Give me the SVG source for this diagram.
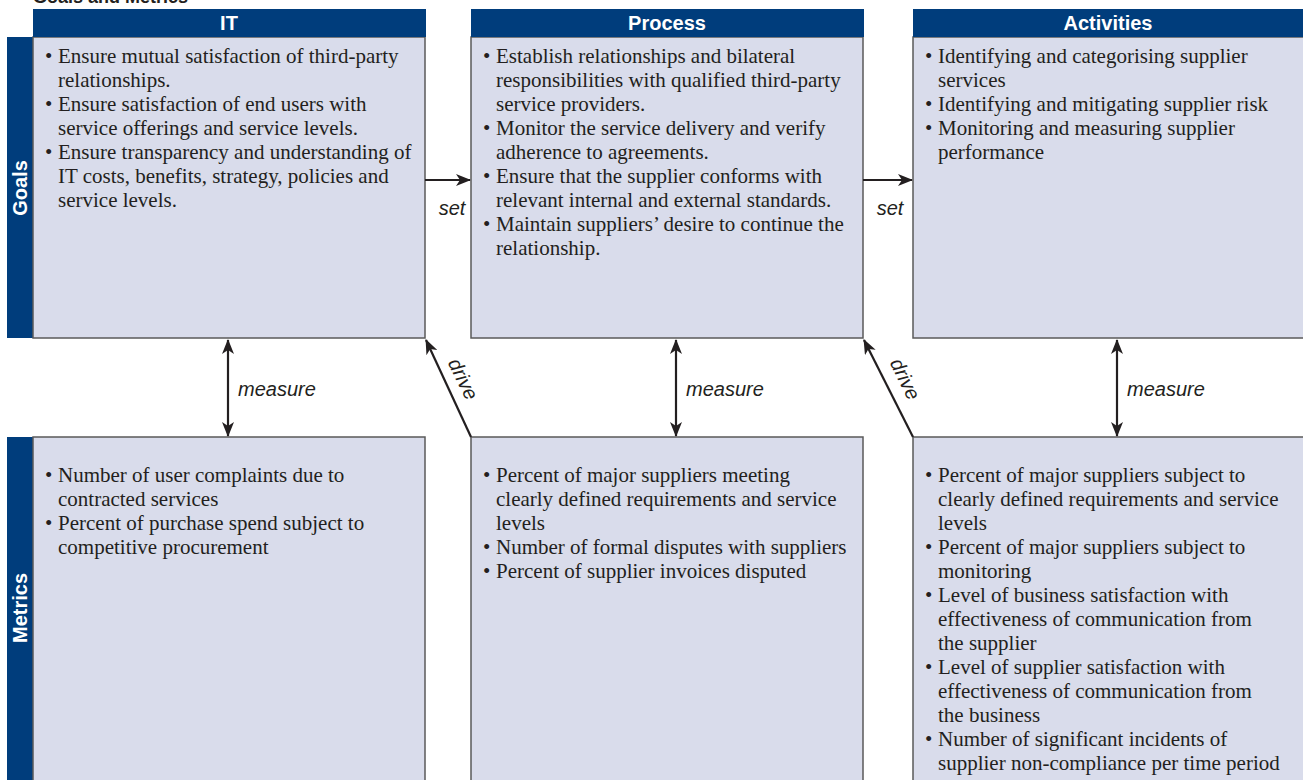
<svg xmlns="http://www.w3.org/2000/svg" width="1303" height="780" viewBox="0 0 1303 780">
<style>
.hdr{fill:#003D7C}
.box{fill:#D9DCEB;stroke:#5a5a5a;stroke-width:1.5}
.ht{font-family:"Liberation Sans",Arial,sans-serif;font-weight:bold;font-size:20px;fill:#fff;text-anchor:middle}
.bt{font-family:"Liberation Serif","Times New Roman",serif;font-size:21px;fill:#231f20}
.lbl{font-family:"Liberation Sans",Arial,sans-serif;font-style:italic;font-size:20px;fill:#231f20}
.cn{stroke:#231f20;stroke-width:2.2;fill:none}
</style>
<defs>
<marker id="ah" viewBox="0 0 15 12" refX="14" refY="6" markerWidth="15" markerHeight="12" markerUnits="userSpaceOnUse" orient="auto-start-reverse">
<path d="M0,0 L15,6 L0,12 L4,6 Z" fill="#231f20"/>
</marker>
</defs>
<text x="33" y="3" font-family="Liberation Sans,Arial,sans-serif" font-weight="bold" font-size="18" fill="#231f20">Goals and Metrics</text>
<g id="side-goals"><rect class="hdr" x="7" y="37" width="27" height="301"/><text class="ht" transform="translate(27,188) rotate(-90)" font-size="17">Goals</text></g>
<g id="side-metrics"><rect class="hdr" x="7" y="437" width="27" height="343"/><text class="ht" transform="translate(27,608) rotate(-90)" font-size="17">Metrics</text></g>
<g id="it-goals">
<rect class="box" x="33" y="37" width="392" height="301"/>
<rect class="hdr" x="33" y="9" width="393" height="28"/>
<text class="ht" x="229" y="30">IT</text>
<text class="bt"><tspan x="45" y="63">•</tspan><tspan x="58" y="63">Ensure mutual satisfaction of third-party</tspan><tspan x="58" y="87">relationships.</tspan><tspan x="45" y="111">•</tspan><tspan x="58" y="111">Ensure satisfaction of end users with</tspan><tspan x="58" y="135">service offerings and service levels.</tspan><tspan x="45" y="159">•</tspan><tspan x="58" y="159">Ensure transparency and understanding of</tspan><tspan x="58" y="183">IT costs, benefits, strategy, policies and</tspan><tspan x="58" y="207">service levels.</tspan></text>
</g>
<g id="process-goals">
<rect class="box" x="471" y="37" width="392" height="301"/>
<rect class="hdr" x="471" y="9" width="393" height="28"/>
<text class="ht" x="667" y="30">Process</text>
<text class="bt"><tspan x="483" y="63">•</tspan><tspan x="496" y="63">Establish relationships and bilateral</tspan><tspan x="496" y="87">responsibilities with qualified third-party</tspan><tspan x="496" y="111">service providers.</tspan><tspan x="483" y="135">•</tspan><tspan x="496" y="135">Monitor the service delivery and verify</tspan><tspan x="496" y="159">adherence to agreements.</tspan><tspan x="483" y="183">•</tspan><tspan x="496" y="183">Ensure that the supplier conforms with</tspan><tspan x="496" y="207">relevant internal and external standards.</tspan><tspan x="483" y="231">•</tspan><tspan x="496" y="231">Maintain suppliers’ desire to continue the</tspan><tspan x="496" y="255">relationship.</tspan></text>
</g>
<g id="activities-goals">
<rect class="box" x="913" y="37" width="395" height="301"/>
<rect class="hdr" x="913" y="9" width="395" height="28"/>
<text class="ht" x="1108" y="30">Activities</text>
<text class="bt"><tspan x="925" y="63">•</tspan><tspan x="938" y="63">Identifying and categorising supplier</tspan><tspan x="938" y="87">services</tspan><tspan x="925" y="111">•</tspan><tspan x="938" y="111">Identifying and mitigating supplier risk</tspan><tspan x="925" y="135">•</tspan><tspan x="938" y="135">Monitoring and measuring supplier</tspan><tspan x="938" y="159">performance</tspan></text>
</g>
<g id="it-metrics">
<rect class="box" x="33" y="437" width="392" height="350"/>
<text class="bt"><tspan x="45" y="482">•</tspan><tspan x="58" y="482">Number of user complaints due to</tspan><tspan x="58" y="506">contracted services</tspan><tspan x="45" y="530">•</tspan><tspan x="58" y="530">Percent of purchase spend subject to</tspan><tspan x="58" y="554">competitive procurement</tspan></text>
</g>
<g id="process-metrics">
<rect class="box" x="471" y="437" width="392" height="350"/>
<text class="bt"><tspan x="483" y="482">•</tspan><tspan x="496" y="482">Percent of major suppliers meeting</tspan><tspan x="496" y="506">clearly defined requirements and service</tspan><tspan x="496" y="530">levels</tspan><tspan x="483" y="554">•</tspan><tspan x="496" y="554">Number of formal disputes with suppliers</tspan><tspan x="483" y="578">•</tspan><tspan x="496" y="578">Percent of supplier invoices disputed</tspan></text>
</g>
<g id="activities-metrics">
<rect class="box" x="913" y="437" width="395" height="350"/>
<text class="bt"><tspan x="925" y="482">•</tspan><tspan x="938" y="482">Percent of major suppliers subject to</tspan><tspan x="938" y="506">clearly defined requirements and service</tspan><tspan x="938" y="530">levels</tspan><tspan x="925" y="554">•</tspan><tspan x="938" y="554">Percent of major suppliers subject to</tspan><tspan x="938" y="578">monitoring</tspan><tspan x="925" y="602">•</tspan><tspan x="938" y="602">Level of business satisfaction with</tspan><tspan x="938" y="626">effectiveness of communication from</tspan><tspan x="938" y="650">the supplier</tspan><tspan x="925" y="674">•</tspan><tspan x="938" y="674">Level of supplier satisfaction with</tspan><tspan x="938" y="698">effectiveness of communication from</tspan><tspan x="938" y="722">the business</tspan><tspan x="925" y="746">•</tspan><tspan x="938" y="746">Number of significant incidents of</tspan><tspan x="938" y="770">supplier non-compliance per time period</tspan></text>
</g>
<g id="connectors">
<line class="cn" x1="425" y1="180" x2="470" y2="180" marker-end="url(#ah)"/>
<line class="cn" x1="863" y1="180" x2="912" y2="180" marker-end="url(#ah)"/>
<line class="cn" x1="228" y1="340" x2="228" y2="436" marker-start="url(#ah)" marker-end="url(#ah)"/>
<line class="cn" x1="676" y1="340" x2="676" y2="436" marker-start="url(#ah)" marker-end="url(#ah)"/>
<line class="cn" x1="1117" y1="340" x2="1117" y2="436" marker-start="url(#ah)" marker-end="url(#ah)"/>
<line class="cn" x1="471" y1="437" x2="426" y2="340" marker-end="url(#ah)"/>
<line class="cn" x1="913" y1="437" x2="864" y2="340" marker-end="url(#ah)"/>
<text class="lbl" x="452" y="215" text-anchor="middle">set</text>
<text class="lbl" x="890" y="215" text-anchor="middle">set</text>
<text class="lbl" x="238" y="396">measure</text>
<text class="lbl" x="686" y="396">measure</text>
<text class="lbl" x="1127" y="396">measure</text>
<text class="lbl" text-anchor="middle" transform="translate(457,382) rotate(64)">drive</text>
<text class="lbl" text-anchor="middle" transform="translate(899,382) rotate(64)">drive</text>
</g>
</svg>
